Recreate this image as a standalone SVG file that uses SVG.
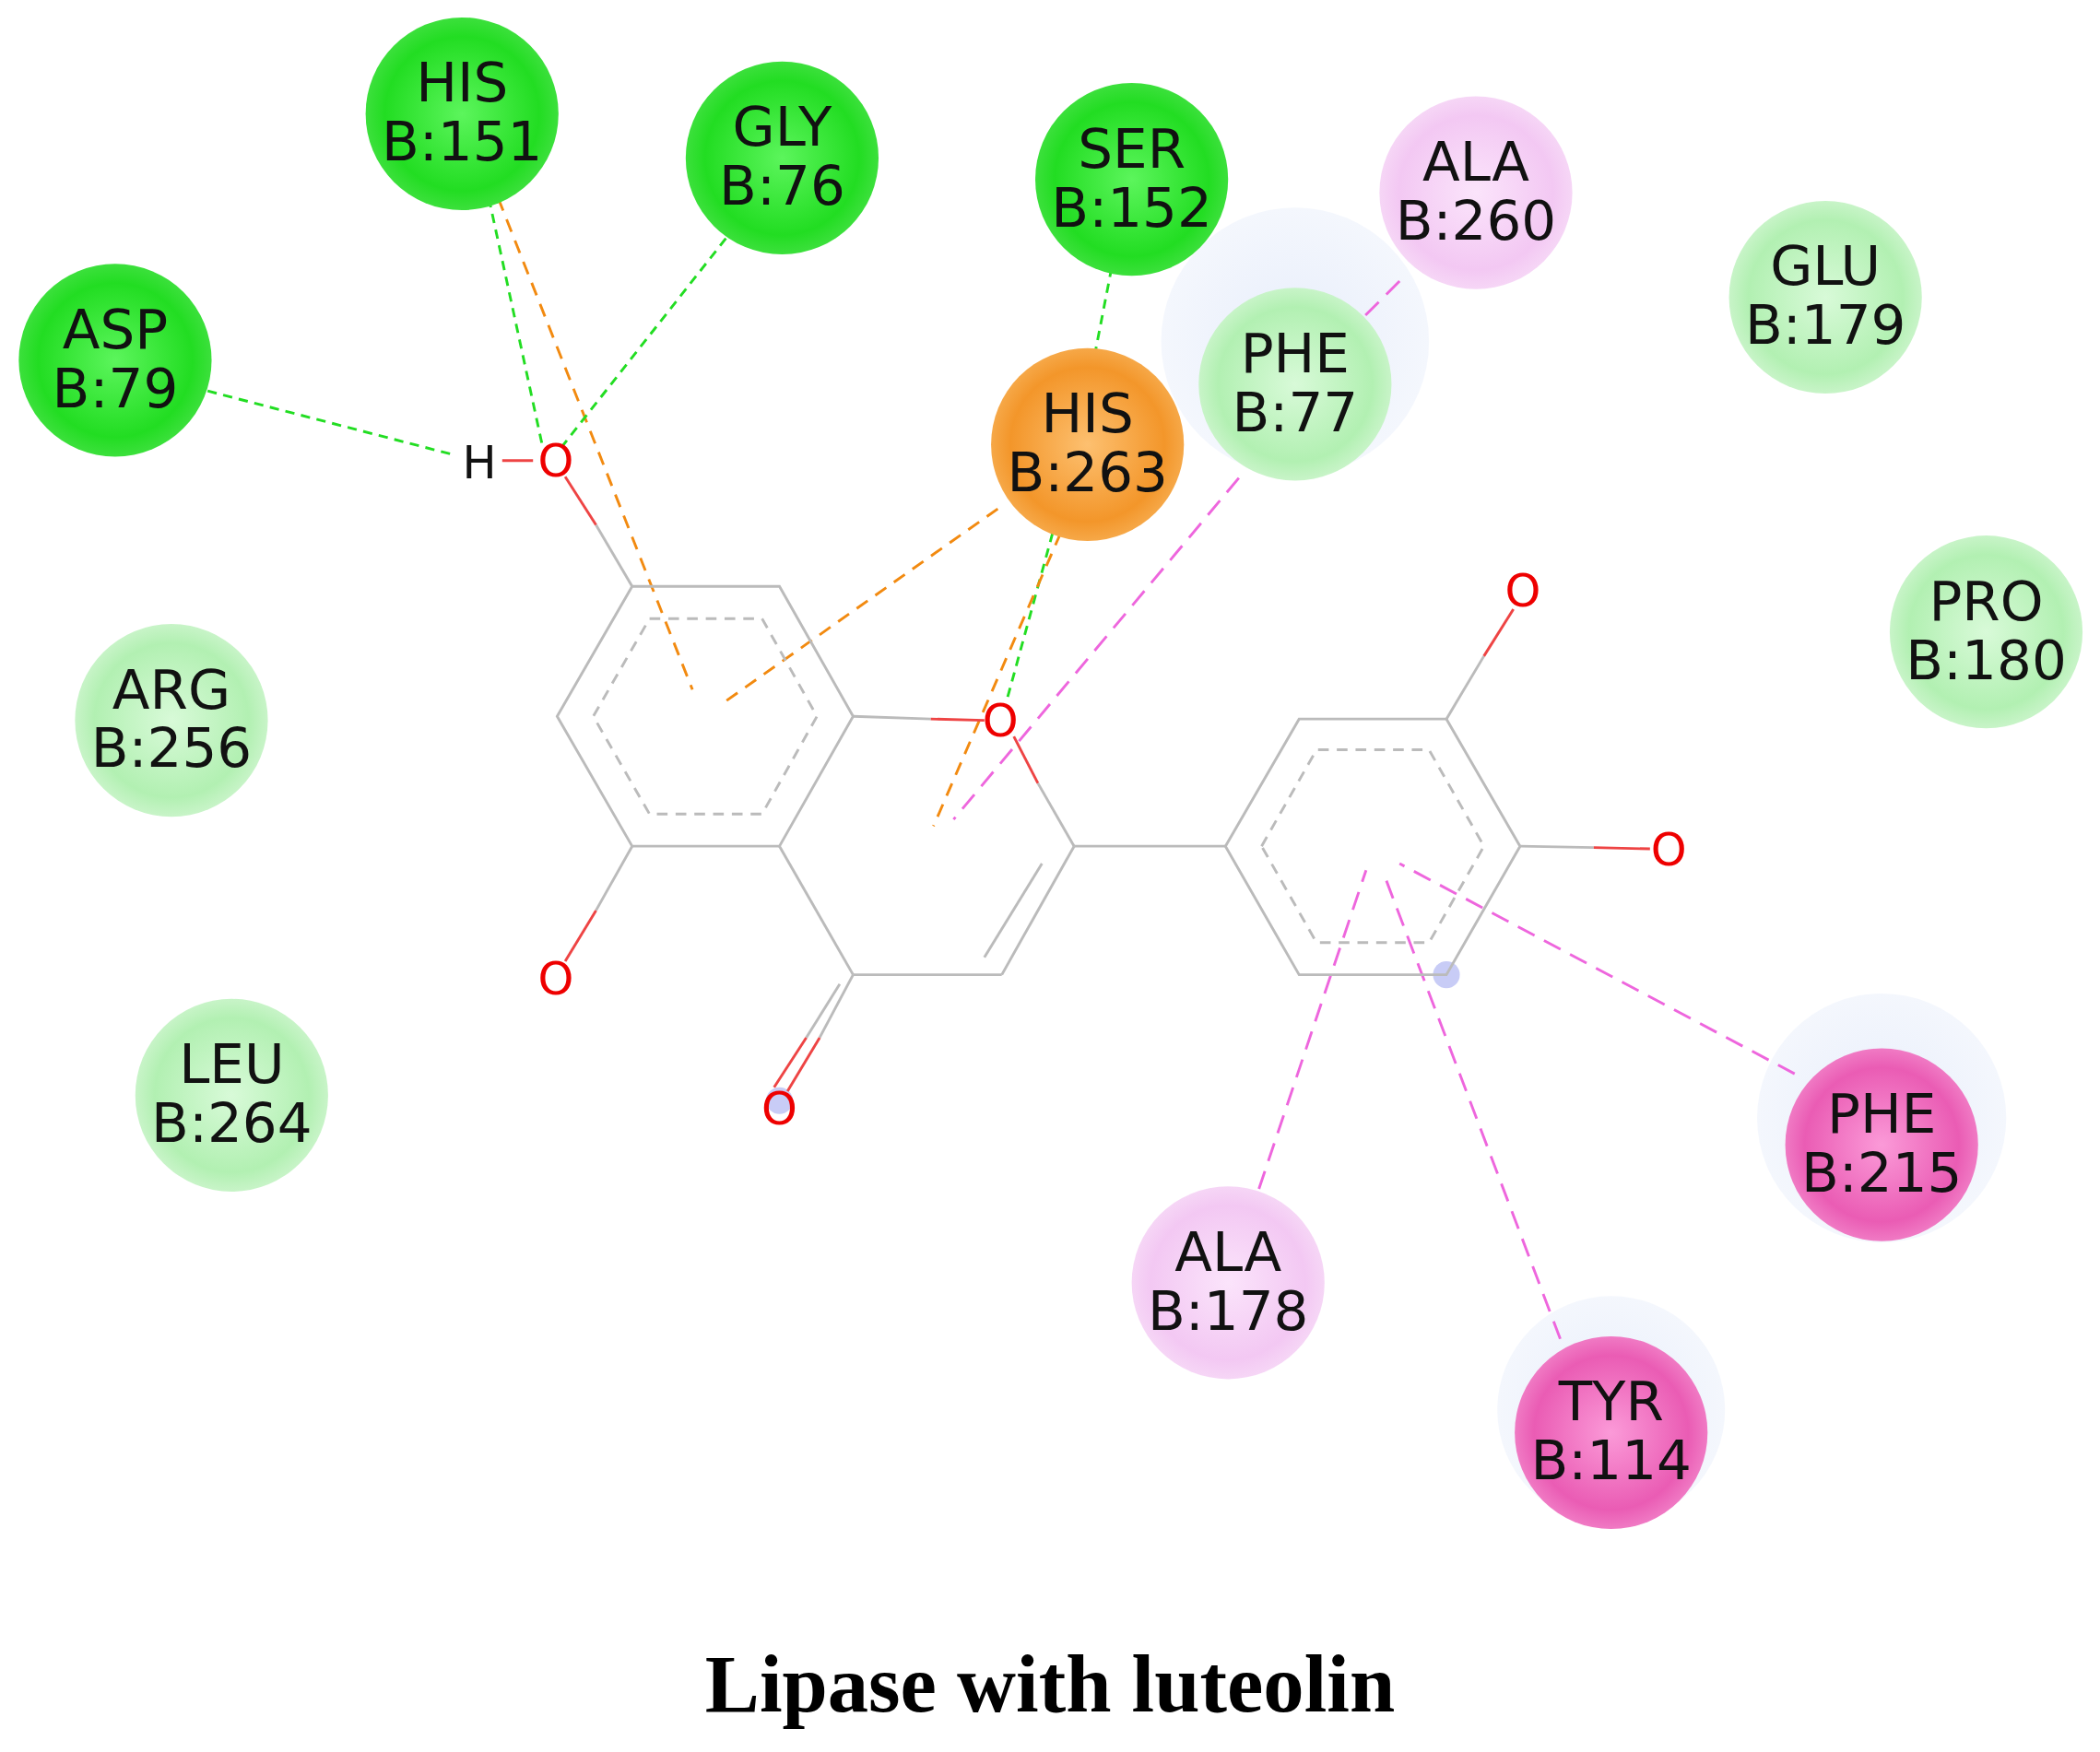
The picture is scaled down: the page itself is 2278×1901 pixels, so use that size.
<svg xmlns="http://www.w3.org/2000/svg" width="2278" height="1901" viewBox="0 0 2278 1901">
<defs>
<radialGradient id="dg"><stop offset="0" stop-color="#5cf55c"/><stop offset="0.8" stop-color="#22dd22"/><stop offset="1" stop-color="#3ce03c"/></radialGradient>
<radialGradient id="lg"><stop offset="0" stop-color="#d8fad8"/><stop offset="0.8" stop-color="#b2f0b2"/><stop offset="1" stop-color="#c8f4c8"/></radialGradient>
<radialGradient id="lp"><stop offset="0" stop-color="#fbe4fb"/><stop offset="0.8" stop-color="#f3c8f3"/><stop offset="1" stop-color="#f6d6f6"/></radialGradient>
<radialGradient id="hp"><stop offset="0" stop-color="#fb9ad8"/><stop offset="0.8" stop-color="#ea5cb4"/><stop offset="1" stop-color="#f07ac4"/></radialGradient>
<radialGradient id="or"><stop offset="0" stop-color="#fdc070"/><stop offset="0.8" stop-color="#f3962a"/><stop offset="1" stop-color="#f6a848"/></radialGradient>
<radialGradient id="halo"><stop offset="0" stop-color="#e8eefb"/><stop offset="1" stop-color="#f4f7fd"/></radialGradient>
</defs>
<style>
.t{font-family:"DejaVu Sans",Verdana,sans-serif;font-size:41px;fill:#111;text-anchor:middle}
.o{font-family:"DejaVu Sans",sans-serif;font-size:34px;fill:#e00;text-anchor:middle}
.b{stroke:#bbb;stroke-width:2;fill:none}
.r{stroke:#e44;stroke-width:2;fill:none}
.dh{stroke:#bbb;stroke-width:2;fill:none;stroke-dasharray:8 6}
.hg{stroke:#22dd22;stroke-width:2;stroke-dasharray:7 5;fill:none}
.ho{stroke:#f28a10;stroke-width:2;stroke-dasharray:10 7;fill:none}
.hp{stroke:#ee66dd;stroke-width:2;stroke-dasharray:14 8;fill:none}
</style>
<rect width="2278" height="1901" fill="#fff"/>
<g transform="scale(1.4528)">
<g id="halos">
<circle cx="967" cy="255" r="100" fill="url(#halo)"/>
<circle cx="1405" cy="835" r="93" fill="url(#halo)"/>
<circle cx="1203" cy="1053" r="85" fill="url(#halo)"/>
<circle cx="1080" cy="728" r="10" fill="#c8ccf6"/>
<circle cx="582" cy="822" r="10" fill="#c8ccf6"/>
</g>
<g id="connectors">
<line class="hg" x1="155" y1="292" x2="340" y2="340"/>
<line class="hg" x1="365" y1="148" x2="405" y2="333"/>
<line class="ho" x1="372" y1="148" x2="517" y2="515"/>
<line class="hg" x1="542" y1="178" x2="420" y2="333"/>
<line class="hg" x1="830" y1="200" x2="818" y2="262"/>
<line class="hg" x1="786" y1="398" x2="752" y2="522"/>
<line class="ho" x1="745" y1="380" x2="540" y2="525"/>
<line class="ho" x1="792" y1="398" x2="697" y2="617"/>
<line class="hp" x1="1045" y1="210" x2="995" y2="260"/>
<line class="hp" x1="925" y1="357" x2="712" y2="612"/>
<line class="hp" x1="940" y1="888" x2="1020" y2="650"/>
<line class="hp" x1="1165" y1="1000" x2="1033" y2="652"/>
<line class="hp" x1="1340" y1="802" x2="1045" y2="645"/>
</g>
<g id="ligand">
<polygon class="b" points="472,438 582,438 637,535 582,632 472,632 416,535"/>
<polygon class="dh" points="485,462 569,462 610,535 569,608 485,608 443,535"/>
<line class="b" x1="637" y1="535" x2="695" y2="537"/><line class="r" x1="695" y1="537" x2="735" y2="538"/>
<line class="r" x1="757" y1="550" x2="775" y2="585"/><line class="b" x1="775" y1="585" x2="802" y2="632"/>
<line class="b" x1="802" y1="632" x2="748" y2="728"/><line class="b" x1="778" y1="645" x2="735" y2="715"/>
<line class="b" x1="748" y1="728" x2="637" y2="728"/>
<line class="b" x1="637" y1="728" x2="582" y2="632"/>
<line class="b" x1="637" y1="728" x2="612" y2="775"/><line class="r" x1="612" y1="775" x2="588" y2="815"/>
<line class="b" x1="627" y1="735" x2="602" y2="775"/><line class="r" x1="602" y1="775" x2="578" y2="812"/>
<line class="b" x1="802" y1="632" x2="915" y2="632"/>
<polygon class="b" points="915,632 970,537 1080,537 1135,632 1080,728 970,728"/>
<polygon class="dh" points="942,632 983,560 1067,560 1108,632 1067,704 983,704"/>
<line class="b" x1="1080" y1="537" x2="1108" y2="490"/><line class="r" x1="1108" y1="490" x2="1130" y2="455"/>
<line class="b" x1="1135" y1="632" x2="1190" y2="633"/><line class="r" x1="1190" y1="633" x2="1232" y2="634"/>
<line class="b" x1="472" y1="438" x2="445" y2="392"/><line class="r" x1="445" y1="392" x2="422" y2="356"/>
<line class="r" x1="375" y1="344" x2="398" y2="344"/>
<line class="b" x1="472" y1="632" x2="445" y2="680"/><line class="r" x1="445" y1="680" x2="422" y2="718"/>
<text class="o" x="415" y="356">O</text>
<text x="358" y="357" style="font-family:'DejaVu Sans',sans-serif;font-size:34px;fill:#111;text-anchor:middle">H</text>
<text class="o" x="747" y="550">O</text>
<text class="o" x="415" y="743">O</text>
<text class="o" x="582" y="840">O</text>
<text class="o" x="1137" y="453">O</text>
<text class="o" x="1246" y="646">O</text>
</g>
<g id="his151"><circle cx="345" cy="85" r="72" fill="url(#dg)"/><text class="t" x="345" y="76">HIS</text><text class="t" x="345" y="120">B:151</text></g>
<g id="gly76"><circle cx="584" cy="118" r="72" fill="url(#dg)"/><text class="t" x="584" y="109">GLY</text><text class="t" x="584" y="153">B:76</text></g>
<g id="asp79"><circle cx="86" cy="269" r="72" fill="url(#dg)"/><text class="t" x="86" y="260">ASP</text><text class="t" x="86" y="304">B:79</text></g>
<g id="ser152"><circle cx="845" cy="134" r="72" fill="url(#dg)"/><text class="t" x="845" y="125">SER</text><text class="t" x="845" y="169">B:152</text></g>
<g id="ala260"><circle cx="1102" cy="144" r="72" fill="url(#lp)"/><text class="t" x="1102" y="135">ALA</text><text class="t" x="1102" y="179">B:260</text></g>
<g id="glu179"><circle cx="1363" cy="222" r="72" fill="url(#lg)"/><text class="t" x="1363" y="213">GLU</text><text class="t" x="1363" y="257">B:179</text></g>
<g id="phe77"><circle cx="967" cy="287" r="72" fill="url(#lg)"/><text class="t" x="967" y="278">PHE</text><text class="t" x="967" y="322">B:77</text></g>
<g id="his263"><circle cx="812" cy="332" r="72" fill="url(#or)"/><text class="t" x="812" y="323">HIS</text><text class="t" x="812" y="367">B:263</text></g>
<g id="pro180"><circle cx="1483" cy="472" r="72" fill="url(#lg)"/><text class="t" x="1483" y="463">PRO</text><text class="t" x="1483" y="507">B:180</text></g>
<g id="arg256"><circle cx="128" cy="538" r="72" fill="url(#lg)"/><text class="t" x="128" y="529">ARG</text><text class="t" x="128" y="573">B:256</text></g>
<g id="leu264"><circle cx="173" cy="818" r="72" fill="url(#lg)"/><text class="t" x="173" y="809">LEU</text><text class="t" x="173" y="853">B:264</text></g>
<g id="phe215"><circle cx="1405" cy="855" r="72" fill="url(#hp)"/><text class="t" x="1405" y="846">PHE</text><text class="t" x="1405" y="890">B:215</text></g>
<g id="ala178"><circle cx="917" cy="958" r="72" fill="url(#lp)"/><text class="t" x="917" y="949">ALA</text><text class="t" x="917" y="993">B:178</text></g>
<g id="tyr114"><circle cx="1203" cy="1070" r="72" fill="url(#hp)"/><text class="t" x="1203" y="1061">TYR</text><text class="t" x="1203" y="1105">B:114</text></g>
<text x="784" y="1278" style="font-family:'Liberation Serif','Times New Roman',serif;font-weight:bold;font-size:61px;fill:#000;text-anchor:middle">Lipase with luteolin</text>
</g>
</svg>
